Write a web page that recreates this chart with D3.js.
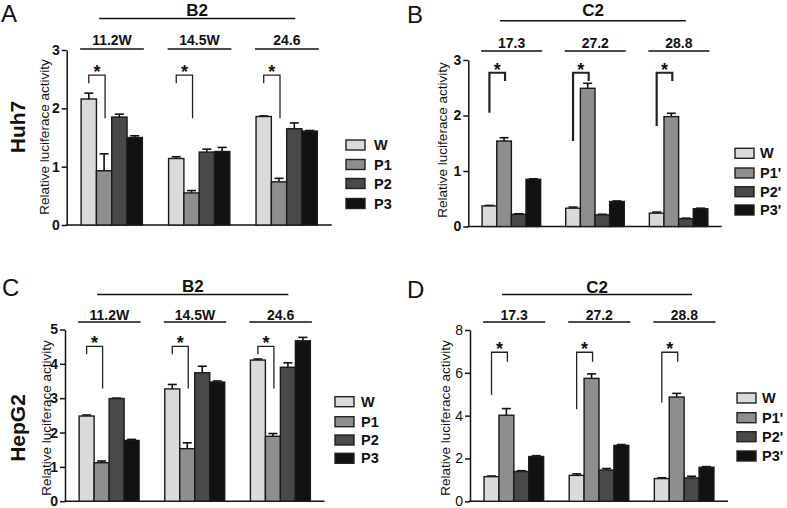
<!DOCTYPE html>
<html><head><meta charset="utf-8">
<script src="https://cdn.jsdelivr.net/npm/d3@7"></script>
<style>
body{margin:0;background:#fff}
svg{display:block}
text{font-family:"Liberation Sans", Arial, Helvetica, sans-serif;fill:#111}
</style>
</head><body>
<svg id="chart" width="787" height="508"></svg>
<script>
// ---------- data ----------
const groupsB2 = ["11.2W", "14.5W", "24.6"];
const groupsC2 = ["17.3", "27.2", "28.8"];
const seriesB2 = ["W", "P1", "P2", "P3"];
const seriesC2 = ["W", "P1'", "P2'", "P3'"];
const panelLetters = ["A", "B", "C", "D"];
const cellLines = ["Huh7", "HepG2"];
const genes = ["B2", "C2"];
const yLabel = "Relative luciferace activity";

// values[group][series]
const huh7B2Values = [[2.16, 0.93, 1.85, 1.50], [1.14, 0.55, 1.25, 1.26], [1.86, 0.74, 1.65, 1.61]];
const huh7B2Errors = [[0.10, 0.29, 0.05, 0.03], [0.03, 0.04, 0.05, 0.07], [0.01, 0.06, 0.10, 0.01]];
const huh7C2Values = [[0.37, 1.54, 0.22, 0.85], [0.33, 2.49, 0.21, 0.45], [0.24, 1.98, 0.14, 0.32]];
const huh7C2Errors = [[0.01, 0.06, 0.01, 0.01], [0.02, 0.09, 0.01, 0.01], [0.02, 0.06, 0.01, 0.01]];
const hepg2B2Values = [[2.48, 1.12, 2.99, 1.77], [3.27, 1.53, 3.74, 3.47], [4.11, 1.89, 3.90, 4.67]];
const hepg2B2Errors = [[0.03, 0.05, 0.01, 0.03], [0.13, 0.17, 0.19, 0.03], [0.03, 0.08, 0.13, 0.10]];
const hepg2C2Values = [[1.15, 4.02, 1.39, 2.09], [1.21, 5.74, 1.46, 2.61], [1.06, 4.87, 1.09, 1.59]];
const hepg2C2Errors = [[0.03, 0.31, 0.04, 0.04], [0.07, 0.21, 0.07, 0.04], [0.04, 0.17, 0.08, 0.03]];

// significance brackets per group: [left end, top, right end] in y units
const huh7B2Brackets = [[2.43, 2.57, 1.83], [2.43, 2.57, 1.83], [2.43, 2.57, 1.83]];
const huh7C2Brackets = [[2.05, 2.77, 2.62], [1.54, 2.77, 2.62], [1.81, 2.77, 2.62]];
const hepg2B2Brackets = [[4.28, 4.51, 3.28], [4.28, 4.51, 3.28], [4.28, 4.51, 3.28]];
const hepg2C2Brackets = [[4.96, 6.96, 6.52], [4.30, 6.96, 6.52], [4.61, 6.96, 6.52]];

const ticksA = [0, 1, 2, 3];
const ticksB = [0, 1, 2, 3];
const ticksC = [0, 1, 2, 3, 4, 5];
const ticksD = [0, 2, 4, 6, 8];

// ---------- styles ----------
const fills = ["#dadada", "#8e8e8e", "#494949", "#111111"];

const panels = [
  {letter: panelLetters[0], cell: cellLines[0], gene: genes[0], groups: groupsB2, series: seriesB2,
   values: huh7B2Values, errors: huh7B2Errors, brackets: huh7B2Brackets, ticks: ticksA, tickBold: true,
   L: {x0: 66.7, x1: 331.7, yb: 225, yt: 50, letterX: 1, letterY: 22, geneY: 16, geneLineY: 18.5,
       subY: 44.5, subLineY: 49, cellX: 17.5, cellY: 127, ylabX: 44, ylabY: 137,
       legX: 346, legY: [140, 159.5, 178.5, 198.5], legTX: 374, brW: 1.3}},
  {letter: panelLetters[1], cell: null, gene: genes[1], groups: groupsC2, series: seriesC2,
   values: huh7C2Values, errors: huh7C2Errors, brackets: huh7C2Brackets, ticks: ticksB, tickBold: true,
   L: {x0: 468.3, x1: 721.7, yb: 226.5, yt: 60, letterX: 407, letterY: 23, geneY: 16, geneLineY: 20.7,
       subY: 47.5, subLineY: 51, cellX: null, cellY: null, ylabX: 442.5, ylabY: 140,
       legX: 735, legY: [148.3, 168, 186.7, 205], legTX: 760, brW: 2.2}},
  {letter: panelLetters[2], cell: cellLines[1], gene: genes[0], groups: groupsB2, series: seriesB2,
   values: hepg2B2Values, errors: hepg2B2Errors, brackets: hepg2B2Brackets, ticks: ticksC, tickBold: true,
   L: {x0: 65, x1: 324.5, yb: 501.2, yt: 329.5, letterX: 2, letterY: 296, geneY: 292, geneLineY: 294.5,
       subY: 320, subLineY: 322, cellX: 17.5, cellY: 428, ylabX: 46.5, ylabY: 418,
       legX: 335, legY: [396.7, 416.7, 435, 453.3], legTX: 361, brW: 1.3}},
  {letter: panelLetters[3], cell: null, gene: genes[1], groups: groupsC2, series: seriesC2,
   values: hepg2C2Values, errors: hepg2C2Errors, brackets: hepg2C2Brackets, ticks: ticksD, tickBold: false,
   L: {x0: 470, x1: 728, yb: 501.3, yt: 330, letterX: 407, letterY: 297.5, geneY: 292.5, geneLineY: 294.5,
       subY: 320, subLineY: 322, cellX: null, cellY: null, ylabX: 445, ylabY: 418,
       legX: 737, legY: [393, 412.7, 431.7, 451], legTX: 762, brW: 1.3}}
];

const svg = d3.select("#chart");

panels.forEach(p => {
  const L = p.L;
  const g = svg.append("g");
  const yMax = d3.max(p.ticks);
  const x = d3.scaleBand().domain(p.groups).range([L.x0, L.x1]).paddingInner(0.3).paddingOuter(0.165);
  const xi = d3.scaleBand().domain(p.series).range([0, x.bandwidth()]).padding(0);
  const y = d3.scaleLinear().domain([0, yMax]).range([L.yb, L.yt]);

  // panel letter
  g.append("text").attr("x", L.letterX).attr("y", L.letterY)
    .style("font-size", "24px").text(p.letter);

  // gene header
  const first = x(p.groups[0]), last = x(p.groups[p.groups.length - 1]) + x.bandwidth();
  const gx0 = first + 18, gx1 = last - 22;
  g.append("line").attr("x1", gx0).attr("x2", gx1).attr("y1", L.geneLineY).attr("y2", L.geneLineY)
    .attr("stroke", "#111").attr("stroke-width", 1.5);
  g.append("text").attr("x", (gx0 + gx1) / 2).attr("y", L.geneY).attr("text-anchor", "middle")
    .style("font-size", "17px").style("font-weight", "bold").text(p.gene);

  // sub headers
  p.groups.forEach(gr => {
    const a = x(gr) - 1, b = x(gr) + x.bandwidth() + 1.5;
    g.append("line").attr("x1", a).attr("x2", b).attr("y1", L.subLineY).attr("y2", L.subLineY)
      .attr("stroke", "#111").attr("stroke-width", 1.5);
    g.append("text").attr("x", (a + b) / 2).attr("y", L.subY).attr("text-anchor", "middle")
      .style("font-size", "14px").style("font-weight", "bold").text(gr);
  });

  // cell line label
  if (p.cell) {
    g.append("text").attr("transform", `translate(${L.cellX},${L.cellY}) rotate(-90)`)
      .attr("text-anchor", "middle").attr("dominant-baseline", "central")
      .style("font-size", "21px").style("font-weight", "bold").text(p.cell);
  }
  // y label
  g.append("text").attr("transform", `translate(${L.ylabX},${L.ylabY}) rotate(-90)`)
    .attr("text-anchor", "middle").attr("dominant-baseline", "central")
    .style("font-size", "13.5px").text(yLabel);

  // y axis
  const ax = g.append("g").attr("transform", `translate(${L.x0},0)`)
    .call(d3.axisLeft(y).tickValues(p.ticks).tickFormat(d3.format("d")).tickSize(5).tickSizeOuter(0).tickPadding(2));
  ax.select(".domain").attr("stroke", "#111").attr("stroke-width", 1.5);
  ax.selectAll(".tick line").attr("stroke", "#111").attr("stroke-width", 1.5);
  ax.selectAll(".tick text").attr("fill", "#111").style("font-size", "14px")
    .style("font-family", '"Liberation Sans", Arial, sans-serif')
    .style("font-weight", p.tickBold ? "bold" : "normal");

  // x axis line
  g.append("line").attr("x1", L.x0 - 0.75).attr("x2", L.x1).attr("y1", y(0)).attr("y2", y(0))
    .attr("stroke", "#111").attr("stroke-width", 1.5);

  // bars
  p.groups.forEach((gr, gi) => {
    p.series.forEach((s, si) => {
      const v = p.values[gi][si], e = p.errors[gi][si];
      const bx = x(gr) + xi(s), bw = xi.bandwidth();
      const cx = bx + bw / 2;
      // error bar
      g.append("line").attr("x1", cx).attr("x2", cx).attr("y1", y(v)).attr("y2", y(v + e))
        .attr("stroke", "#111").attr("stroke-width", 1.6);
      g.append("line").attr("x1", cx - 4.5).attr("x2", cx + 4.5).attr("y1", y(v + e)).attr("y2", y(v + e))
        .attr("stroke", "#111").attr("stroke-width", 1.6);
      g.append("rect").attr("x", bx).attr("y", y(v)).attr("width", bw).attr("height", y(0) - y(v))
        .attr("fill", fills[si]).attr("stroke", "#1a1a1a").attr("stroke-width", 1.4);
    });
    // significance bracket between series 0 and series 1
    const br = p.brackets[gi];
    const lx = x(gr) + xi(p.series[0]) + xi.bandwidth() / 2;
    const rx = x(gr) + xi(p.series[1]) + xi.bandwidth() / 2 + 1;
    g.append("path")
      .attr("d", `M${lx},${y(br[0])}V${y(br[1])}H${rx}V${y(br[2])}`)
      .attr("fill", "none").attr("stroke", "#222").attr("stroke-width", L.brW);
    g.append("text").attr("x", (lx + rx) / 2).attr("y", y(br[1]) + 3).attr("text-anchor", "middle")
      .style("font-size", "18px").style("font-weight", "bold").text("*");
  });

  // legend
  p.series.forEach((s, si) => {
    g.append("rect").attr("x", L.legX).attr("y", L.legY[si]).attr("width", 19).attr("height", 10)
      .attr("fill", fills[si]).attr("stroke", "#222").attr("stroke-width", 1.4);
    g.append("text").attr("x", L.legTX).attr("y", L.legY[si] + 5).attr("dominant-baseline", "central")
      .style("font-size", "14.5px").style("font-weight", "bold").text(s);
  });
});
</script>
</body></html>
